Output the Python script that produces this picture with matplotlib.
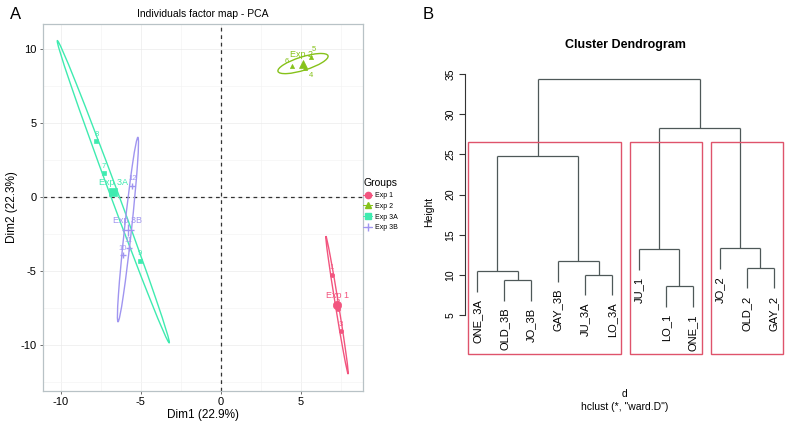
import matplotlib
matplotlib.use("Agg")
import matplotlib.pyplot as plt
from matplotlib.patches import Ellipse, Rectangle
from matplotlib.lines import Line2D
import numpy as np

plt.rcParams['font.family'] = ['Liberation Sans', 'DejaVu Sans']

# ---------------- Panel A data (PCA individuals) ----------------
groups = ["Exp 1", "Exp 2", "Exp 3A", "Exp 3B"]
group_colors = ["#F2557F", "#86C21A", "#3FEBB0", "#A095F0"]
group_markers = ["o", "^", "s", "+"]

point_labels = ["1", "2", "3", "4", "5", "6", "7", "8", "9", "10", "11", "12"]
point_group = [0, 0, 0, 1, 1, 1, 2, 2, 2, 3, 3, 3]
dim1 = [6.96, 7.33, 7.54, 5.30, 5.67, 4.48, -7.29, -7.77, -5.06, -6.10, -5.75, -5.52]
dim2 = [-5.25, -7.59, -9.05, 8.75, 9.48, 8.85, 1.62, 3.78, -4.30, -3.92, -3.41, 0.76]
# label offsets (points) for the individual labels
label_dx = [0, 0, 0, 4, 2, -4, 0, 0, 0, 0, 0, 0]
label_dy = [2.5, 2.5, 2.5, -8, 3, 0.5, 2.5, 2.5, 2.5, 2.5, 2.5, 2.5]
group_label_dx = [0, -1, 0, 0]

# ellipse shape per group (semi-major, semi-minor, angle in degrees)
ell_a = [4.71, 1.65, 10.79, 6.26]
ell_b = [0.10, 0.45, 0.25, 0.22]
ell_angle = [-81.5, 18.8, -71.1, 84.3]

xlim_a = (-11.1, 8.9)
ylim_a = (-13.1, 11.7)
xticks_a = [-10, -5, 0, 5]
yticks_a = [-10, -5, 0, 5, 10]

# ---------------- Panel B data (dendrogram) ----------------
leaf_labels = ["ONE_3A", "OLD_3B", "JO_3B", "GAY_3B", "JU_3A", "LO_3A",
               "JU_1", "LO_1", "ONE_1", "JO_2", "OLD_2", "GAY_2"]
# R-style merge matrix: negative = leaf (1-based display position), positive = earlier merge
merge_left = [-8, -2, -5, -1, -11, -4, -7, -10, 4, 7, 9]
merge_right = [-9, -3, -6, 2, -12, 3, 1, 5, 6, 8, 10]
merge_height = [8.61, 9.40, 10.06, 10.50, 10.93, 11.76, 13.26, 13.34, 24.84, 28.29, 34.43]
k_clusters = 3
yticks_b = [5, 10, 15, 20, 25, 30, 35]

fig = plt.figure(figsize=(7.88, 4.34), dpi=100)

# ======================= Panel A =======================
axA = fig.add_axes([43/788, 1-391/434, 320/788, 367/434])
axA.set_xlim(*xlim_a)
axA.set_ylim(*ylim_a)
# grid
for v in np.arange(-12.5, 10, 2.5):
    axA.axvline(v, color="#F4F4F4" if v % 5 else "#EBEBEB", lw=0.5, zorder=0)
for v in np.arange(-12.5, 12.5, 2.5):
    axA.axhline(v, color="#F4F4F4" if v % 5 else "#EBEBEB", lw=0.5, zorder=0)
axA.axhline(0, color="#333333", lw=0.9, ls=(0, (3, 3)), zorder=1)
axA.axvline(0, color="#333333", lw=0.9, ls=(0, (3, 3)), zorder=1)

d1 = np.array(dim1)
d2 = np.array(dim2)
pg = np.array(point_group)
for gi, g in enumerate(groups):
    c = group_colors[gi]
    m = group_markers[gi]
    sel = pg == gi
    cx, cy = d1[sel].mean(), d2[sel].mean()
    axA.add_patch(Ellipse((cx, cy), 2*ell_a[gi], 2*ell_b[gi], angle=ell_angle[gi],
                          fill=False, ec=c, lw=1.0, zorder=2))
    axA.plot(d1[sel], d2[sel], ls="none", marker=m, color=c,
             markersize=3 if m != "+" else 5, mew=1 if m == "+" else 0.5, zorder=3)
    for i in np.where(sel)[0]:
        axA.annotate(point_labels[i], (d1[i], d2[i]), xytext=(label_dx[i], label_dy[i]),
                     textcoords="offset points", ha="center", va="bottom",
                     fontsize=5.5, color=c, zorder=4)
    axA.plot([cx], [cy], ls="none", marker=m, color=c,
             markersize=6 if m != "+" else 9, mew=1 if m == "+" else 0.5, zorder=3)
    axA.annotate(g, (cx, cy), xytext=(group_label_dx[gi], 3.5), textcoords="offset points",
                 ha="center", va="bottom", fontsize=6.5, color=c, zorder=4)

axA.set_xticks(xticks_a)
axA.set_yticks(yticks_a)
axA.set_xticklabels([str(t) for t in xticks_a])
axA.set_yticklabels([str(t) for t in yticks_a])
axA.tick_params(labelsize=8, length=2.5, width=0.6, color="#555555", pad=2)
for s in axA.spines.values():
    s.set_color("#B8C2C6")
    s.set_linewidth(0.9)
axA.set_xlabel("Dim1 (22.9%)", fontsize=8.5, labelpad=1)
axA.set_ylabel("Dim2 (22.3%)", fontsize=8.5, labelpad=2)
axA.set_title("Individuals factor map - PCA", fontsize=7.5, pad=5)

handles = [Line2D([0], [0], color=group_colors[i], marker=group_markers[i], lw=0.7,
                  markersize=4.5 if group_markers[i] != "+" else 6)
           for i in range(len(groups))]
leg = fig.legend(handles, groups, title="Groups", loc="upper left",
                 bbox_to_anchor=(359/788, 1-174/434), frameon=False,
                 fontsize=5, title_fontsize=7.5, handlelength=1.3,
                 handletextpad=0.4, labelspacing=0.55, borderpad=0.1)
leg._legend_box.align = "left"

fig.text(10/788, 1-19/434, "A", fontsize=12, ha="left", va="baseline")
fig.text(423/788, 1-19/434, "B", fontsize=12, ha="left", va="baseline")

# ======================= Panel B =======================
ylim_b = (0.18, 35.5)
axB = fig.add_axes([465.4/788, 1-354/434, 320.2/788, 284/434])
n = len(leaf_labels)
axB.set_xlim(1 - 0.04*(n-1), n + 0.04*(n-1))
axB.set_ylim(*ylim_b)

hang = 0.1 * (max(merge_height) - min(merge_height))
node_x = {}
line_col = "#4E5858"
lw_d = 0.9

def child_xy(ref, parent_h):
    if ref < 0:
        x = -ref
        y_end = parent_h - hang
        return x, y_end, True
    return node_x[ref], merge_height[ref-1], False

for mi in range(len(merge_height)):
    h = merge_height[mi]
    xs = []
    for ref in (merge_left[mi], merge_right[mi]):
        x, y0, is_leaf = child_xy(ref, h)
        axB.plot([x, x], [y0, h], color=line_col, lw=lw_d, solid_capstyle="butt")
        if is_leaf:
            axB.text(x, y0 - 0.9, leaf_labels[x-1], rotation=90, ha="center", va="top",
                     fontsize=8, clip_on=False)
        xs.append(x)
    axB.plot(xs, [h, h], color=line_col, lw=lw_d, solid_capstyle="butt")
    node_x[mi+1] = (xs[0] + xs[1]) / 2

# rect.hclust style boxes for k clusters
def leaves_of(ref):
    if ref < 0:
        return [-ref]
    return leaves_of(merge_left[ref-1]) + leaves_of(merge_right[ref-1])

frontier = [len(merge_height)]
while len(frontier) < k_clusters:
    big = max(frontier, key=lambda r: merge_height[r-1] if r > 0 else -1)
    frontier.remove(big)
    frontier += [merge_left[big-1], merge_right[big-1]]
hs = sorted(merge_height)
rect_top = (hs[-k_clusters+1] + hs[-k_clusters]) / 2
for ref in frontier:
    lv = leaves_of(ref)
    x0 = min(lv) - 1 + 0.66
    x1 = max(lv) + 0.33
    axB.add_patch(Rectangle((x0, ylim_b[0]), x1 - x0, rect_top - ylim_b[0], fill=False,
                            ec="#DF536B", lw=1.0, clip_on=False, zorder=5))

for s in ["top", "right", "bottom"]:
    axB.spines[s].set_visible(False)
axB.spines["left"].set_bounds(5, 35)
axB.spines["left"].set_color("#333333")
axB.spines["left"].set_linewidth(0.8)
axB.set_xticks([])
axB.set_yticks(yticks_b)
axB.set_yticklabels([str(t) for t in yticks_b], rotation=90, va="center")
axB.tick_params(axis="y", labelsize=7.5, length=4, width=0.8, color="#333333", pad=3)
axB.set_ylabel("Height", fontsize=7.5, labelpad=8)
axB.set_title("Cluster Dendrogram", fontsize=9, fontweight="bold", pad=0, y=1 + 22/284)

fig.text(625/788, 1-394/434, "d", fontsize=7.5, ha="center", va="center")
fig.text(625/788, 1-407/434, 'hclust (*, "ward.D")', fontsize=7.5, ha="center", va="center")

fig.savefig("out.png", dpi=100)
